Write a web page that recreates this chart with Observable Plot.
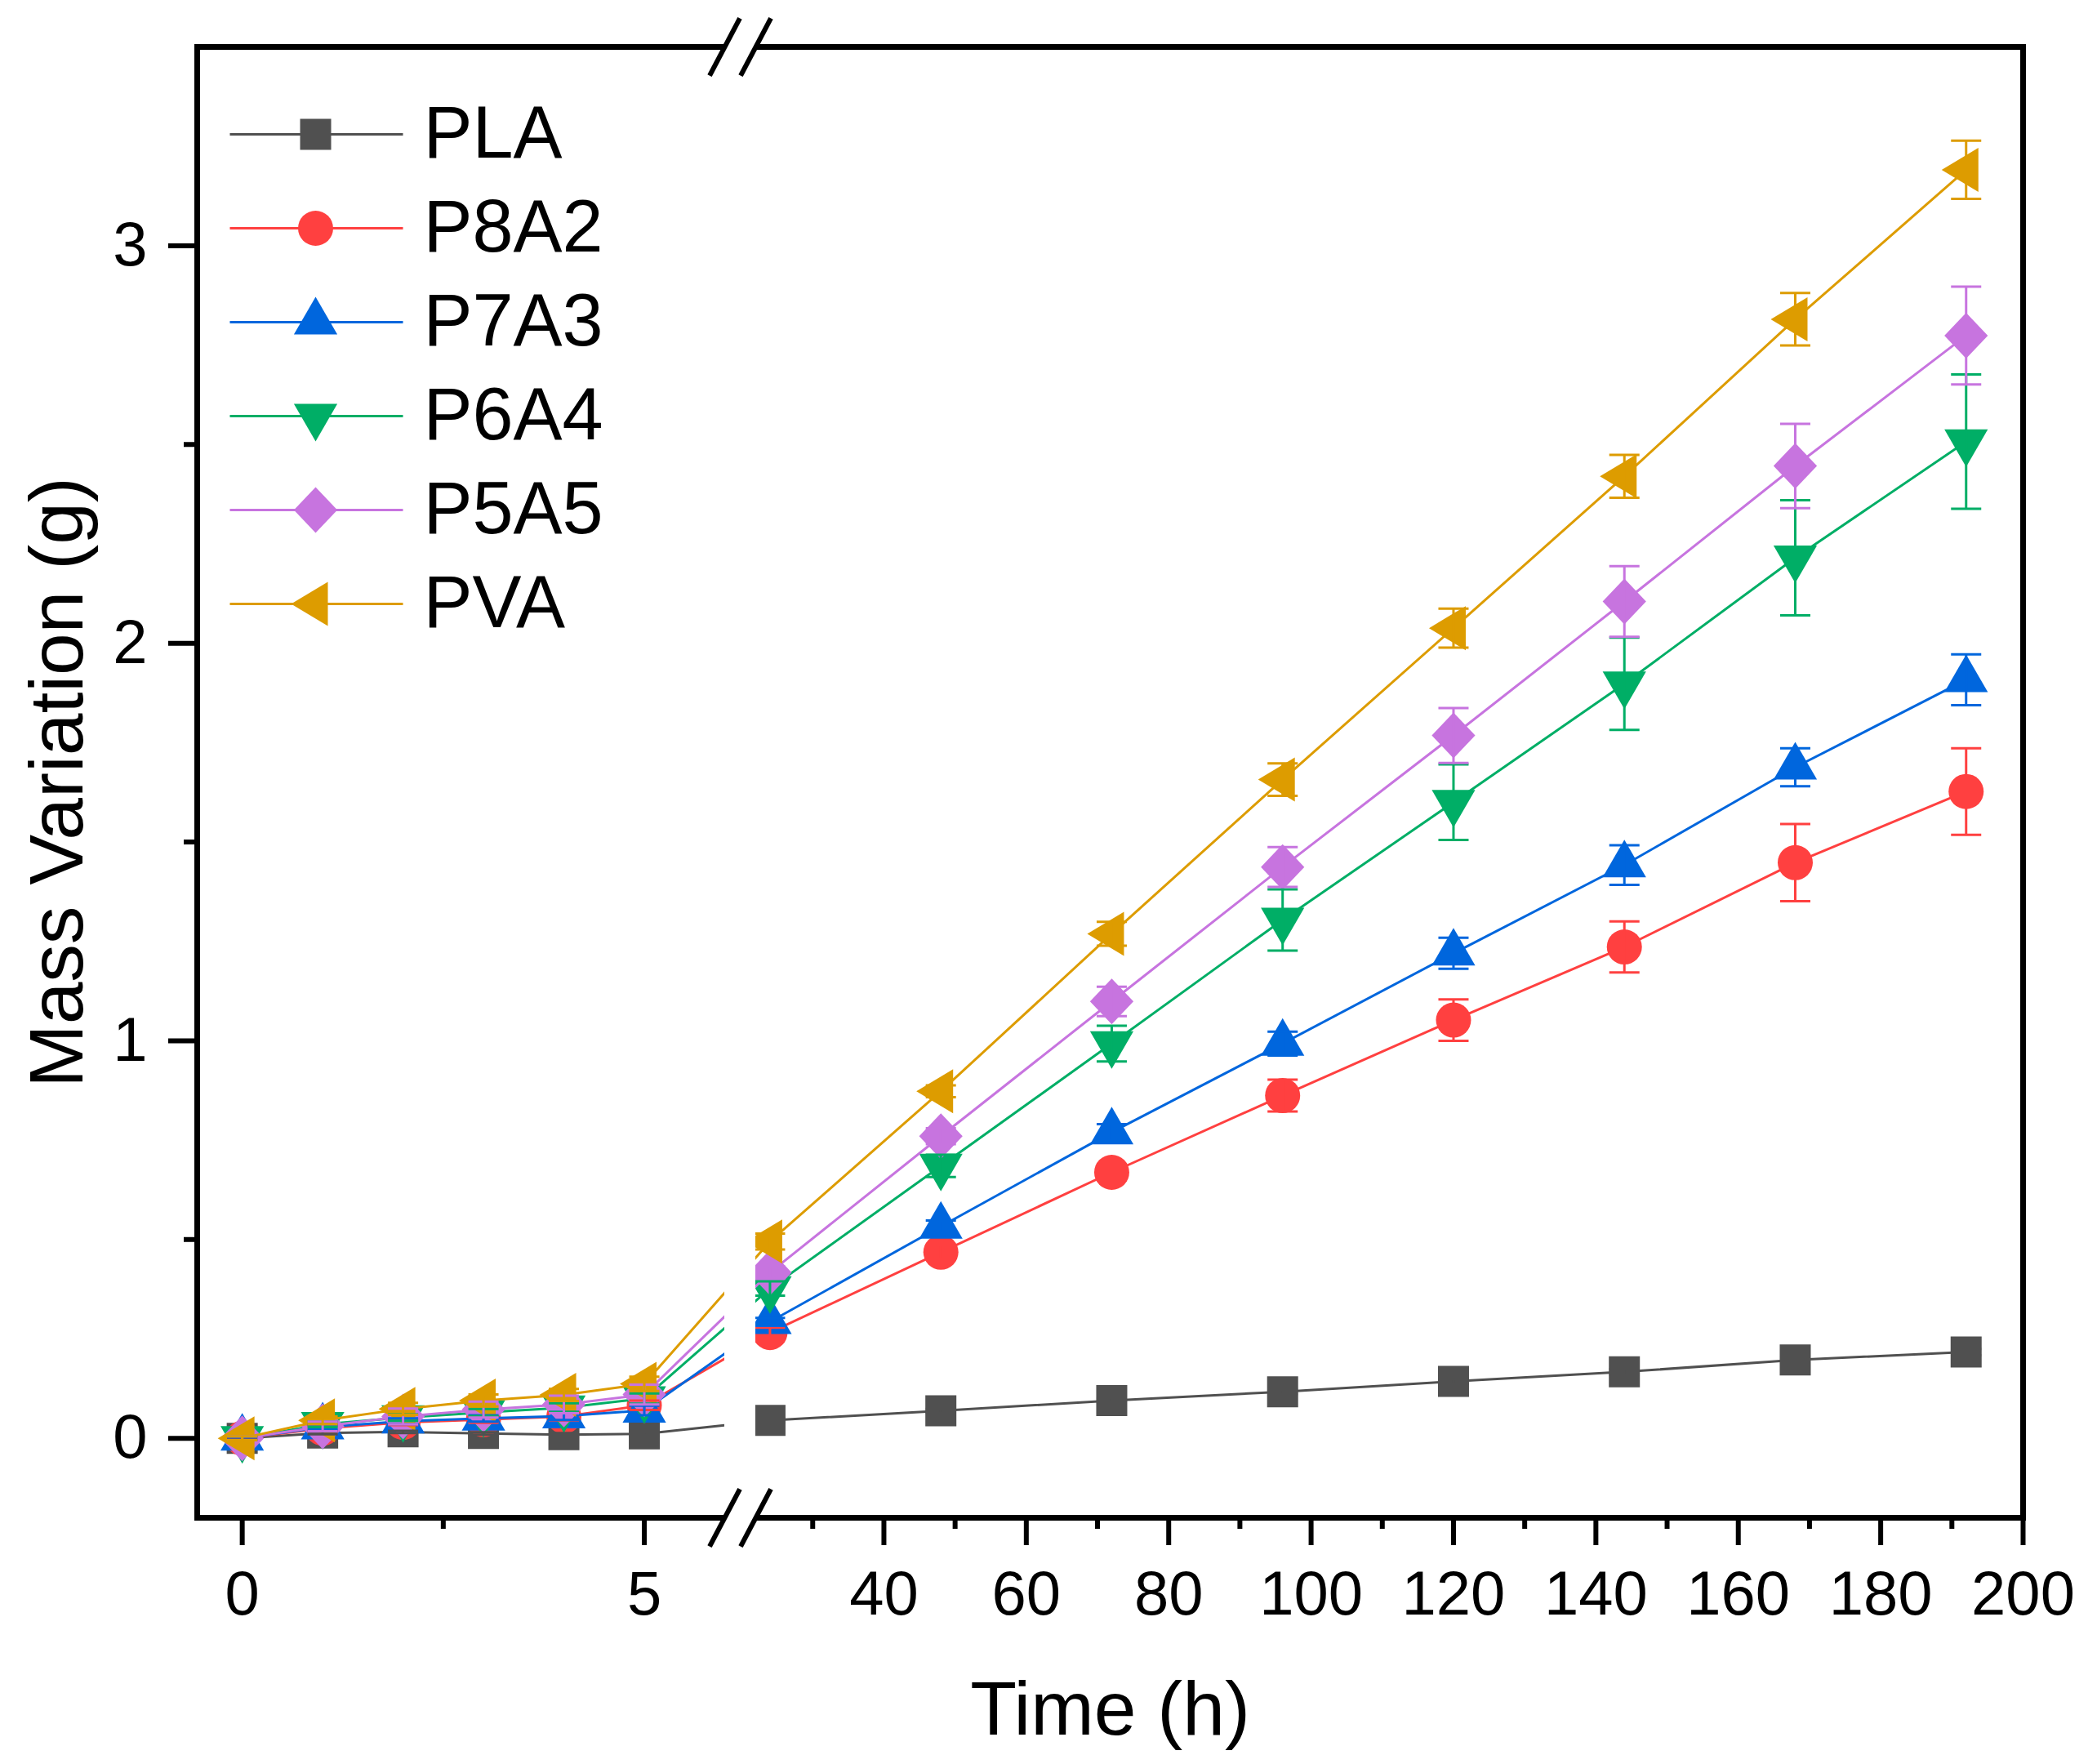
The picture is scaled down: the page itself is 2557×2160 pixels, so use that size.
<!DOCTYPE html>
<html>
<head>
<meta charset="utf-8">
<script src="https://cdn.jsdelivr.net/npm/d3@7"></script>
<script src="https://cdn.jsdelivr.net/npm/@observablehq/plot@0.6"></script>
<style>
  html, body { margin: 0; padding: 0; background: #fff; }
  #chart svg { font-family: "Liberation Sans", Arial, sans-serif; }
</style>
</head>
<body>
<div id="chart"></div>
<script>
// ---------- data ----------
const hours = [0, 1, 2, 3, 4, 5, 24, 48, 72, 96, 120, 144, 168, 192];

const seriesNames = ["PLA", "P8A2", "P7A3", "P6A4", "P5A5", "PVA"];
const seriesColors = ["#505050", "#FF4040", "#0066DD", "#00AE66", "#C774DF", "#DD9C00"];

const plaMass  = [0, 0.013, 0.016, 0.012, 0.009, 0.011, 0.045, 0.069, 0.095, 0.117, 0.143, 0.167, 0.197, 0.217];
const plaErr   = [0.003, 0.003, 0.003, 0.003, 0.004, 0.004, 0.005, 0.005, 0.006, 0.006, 0.006, 0.007, 0.008, 0.008];

const p8a2Mass = [0, 0.025, 0.040, 0.047, 0.055, 0.083, 0.266, 0.468, 0.669, 0.862, 1.052, 1.236, 1.448, 1.627];
const p8a2Err  = [0.004, 0.006, 0.007, 0.008, 0.010, 0.012, 0.012, 0.018, 0.020, 0.040, 0.052, 0.064, 0.097, 0.109];

const p7a3Mass = [0, 0.028, 0.043, 0.050, 0.056, 0.070, 0.293, 0.533, 0.770, 0.993, 1.220, 1.442, 1.688, 1.908];
const p7a3Err  = [0.004, 0.006, 0.007, 0.008, 0.010, 0.012, 0.010, 0.015, 0.020, 0.030, 0.039, 0.050, 0.048, 0.064];

const p6a4Mass = [0, 0.035, 0.052, 0.065, 0.077, 0.100, 0.377, 0.685, 0.993, 1.304, 1.600, 1.898, 2.215, 2.507];
const p6a4Err  = [0.005, 0.007, 0.008, 0.009, 0.011, 0.013, 0.018, 0.028, 0.045, 0.077, 0.095, 0.116, 0.145, 0.169];

const p5a5Mass = [0, 0.030, 0.055, 0.072, 0.085, 0.110, 0.417, 0.760, 1.099, 1.437, 1.768, 2.105, 2.446, 2.774];
const p5a5Err  = [0.005, 0.012, 0.020, 0.020, 0.022, 0.025, 0.015, 0.020, 0.037, 0.050, 0.069, 0.089, 0.106, 0.123];

const pvaMass  = [0, 0.045, 0.074, 0.095, 0.109, 0.137, 0.495, 0.873, 1.269, 1.657, 2.038, 2.420, 2.815, 3.191];
const pvaErr   = [0.005, 0.010, 0.015, 0.015, 0.015, 0.018, 0.020, 0.015, 0.030, 0.041, 0.049, 0.054, 0.066, 0.073];

const massBySeries = [plaMass, p8a2Mass, p7a3Mass, p6a4Mass, p5a5Mass, pvaMass];
const errBySeries  = [plaErr, p8a2Err, p7a3Err, p6a4Err, p5a5Err, pvaErr];

// axis definitions
const xDomain = [-0.56, 200];
const axisBreak = [6, 22];           // hours hidden by the axis break
const yDomain = [-0.2, 3.5];
const xMajorTicks = [0, 5, 40, 60, 80, 100, 120, 140, 160, 180, 200];
const xMinorTicks = [2.5, 30, 50, 70, 90, 110, 130, 150, 170, 190];
const yMajorTicks = [0, 1, 2, 3];
const yMinorTicks = [0.5, 1.5, 2.5];
const xLabel = "Time (h)";
const yLabel = "Mass Variation (g)";

// ---------- tidy rows ----------
const rows = [];
seriesNames.forEach((name, s) => {
  hours.forEach((h, i) => {
    rows.push({series: name, hour: h, mass: massBySeries[s][i], err: errBySeries[s][i]});
  });
});

// ---------- symbols (unit shapes scaled by r) ----------
function polySymbol(points) {
  return {
    draw(ctx, size) {
      const s = Math.sqrt(size / Math.PI);
      points.forEach(([a, b], i) => i ? ctx.lineTo(a * s, b * s) : ctx.moveTo(a * s, b * s));
      ctx.closePath();
    }
  };
}
function lineSymbol(ax, ay) {
  return {
    draw(ctx, size) {
      const s = Math.sqrt(size / Math.PI);
      ctx.moveTo(-ax * s, ay * s);
      ctx.lineTo(ax * s, -ay * s);
    }
  };
}
const symSquare   = polySymbol([[-0.95, -0.95], [0.95, -0.95], [0.95, 0.95], [-0.95, 0.95]]);
const symUp       = polySymbol([[0, -1.55], [1.33, 0.75], [-1.33, 0.75]]);
const symDown     = polySymbol([[0, 1.55], [1.33, -0.75], [-1.33, -0.75]]);
const symDiamond  = polySymbol([[0, -1.4], [1.33, 0], [0, 1.4], [-1.33, 0]]);
const symLeft     = polySymbol([[-1.5, 0], [0.75, -1.35], [0.75, 1.35]]);
const seriesSymbols = [symSquare, "circle", symUp, symDown, symDiamond, symLeft];
const seriesR = [20, 21.5, 20, 20, 20, 20];
const capSymbol = lineSymbol(1, 0);
const slashSymbol = lineSymbol(0.5, 0.95);

// ---------- layout ----------
const W = 2557, H = 2160;
const mL = 241, mR = 80, mT = 57, mB = 302;

const marks = [];

// series lines + markers
seriesNames.forEach((name, s) => {
  const data = rows.filter(d => d.series === name);
  marks.push(Plot.line(data, {x: "hour", y: "mass", stroke: seriesColors[s], strokeWidth: 3}));
  marks.push(Plot.dot(data, {x: "hour", y: "mass", symbol: seriesSymbols[s], r: seriesR[s], fill: seriesColors[s], stroke: "none"}));
});

// error bars
seriesNames.forEach((name, s) => {
  const data = rows.filter(d => d.series === name);
  marks.push(Plot.ruleX(data, {x: "hour", y1: d => d.mass - d.err, y2: d => d.mass + d.err, stroke: seriesColors[s], strokeWidth: 3}));
  marks.push(Plot.dot(data, {x: "hour", y: d => d.mass + d.err, symbol: capSymbol, r: 18.5, fill: "none", stroke: seriesColors[s], strokeWidth: 3}));
  marks.push(Plot.dot(data, {x: "hour", y: d => d.mass - d.err, symbol: capSymbol, r: 18.5, fill: "none", stroke: seriesColors[s], strokeWidth: 3}));
});

// axes
marks.push(Plot.axisY({ticks: yMajorTicks, tickSize: 35, tickPadding: 26, fontSize: 76, strokeWidth: 6, tickFormat: d => String(d), label: null}));
marks.push(Plot.axisY({ticks: yMinorTicks, tickSize: 16, strokeWidth: 6, tickFormat: () => "", label: null}));
marks.push(Plot.axisX({ticks: xMajorTicks, tickSize: 34, tickPadding: 31, fontSize: 76, strokeWidth: 6, tickFormat: d => String(d), label: null}));
marks.push(Plot.axisX({ticks: xMinorTicks, tickSize: 14, strokeWidth: 6, tickFormat: () => "", label: null}));

// frame
marks.push(Plot.frame({stroke: "black", strokeWidth: 7}));

// axis break gap + slashes
marks.push(Plot.rect([axisBreak], {x1: d => d[0], x2: d => d[1], y1: yDomain[0], y2: yDomain[1], fill: "white", insetTop: -9, insetBottom: -9}));
const breakMarks = [];
axisBreak.forEach(h => yDomain.forEach(v => breakMarks.push({hour: h, mass: v})));
marks.push(Plot.dot(breakMarks, {x: "hour", y: "mass", symbol: slashSymbol, r: 37, fill: "none", stroke: "black", strokeWidth: 6}));

// legend (inside the frame, top-left)
seriesNames.forEach((name, s) => {
  const dy = 107 + 115 * s;
  marks.push(Plot.dot([name], {frameAnchor: "top-left", dx: 146, dy, symbol: capSymbol, r: 106, fill: "none", stroke: seriesColors[s], strokeWidth: 3}));
  marks.push(Plot.dot([name], {frameAnchor: "top-left", dx: 145, dy, symbol: seriesSymbols[s], r: seriesR[s], fill: seriesColors[s], stroke: "none"}));
  marks.push(Plot.text([name], {frameAnchor: "top-left", dx: 277, dy, text: d => d, textAnchor: "start", lineAnchor: "middle", fontSize: 90, fill: "black"}));
});

// axis titles
marks.push(Plot.text([xLabel], {frameAnchor: "bottom", dy: 265, text: d => d, textAnchor: "middle", lineAnchor: "bottom", fontSize: 93, fill: "black"}));
marks.push(Plot.text([yLabel], {frameAnchor: "left", dx: -141, rotate: -90, text: d => d, textAnchor: "middle", lineAnchor: "bottom", fontSize: 93, fill: "black"}));

const chart = Plot.plot({
  width: W,
  height: H,
  marginLeft: mL,
  marginRight: mR,
  marginTop: mT,
  marginBottom: mB,
  style: {background: "white", fontFamily: "'Liberation Sans', Arial, sans-serif", color: "black"},
  x: {type: "linear", domain: [xDomain[0], axisBreak[0], axisBreak[1], xDomain[1]], range: [mL, 887, 925, W - mR]},
  y: {domain: yDomain},
  marks
});
document.getElementById("chart").appendChild(chart);
</script>
</body>
</html>
